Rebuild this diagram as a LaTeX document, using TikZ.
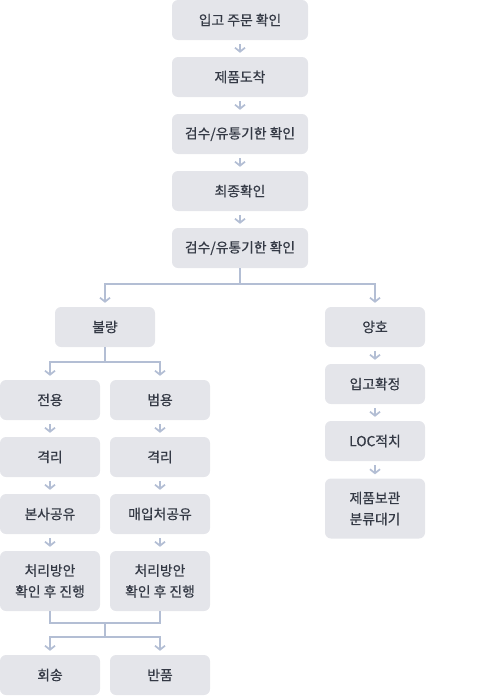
\documentclass[tikz,border=0pt]{standalone}
\usepackage{fontspec}
\setmainfont{Noto Sans CJK KR}
\newfontfamily\boxfont[FakeBold=0.5]{Noto Sans CJK KR}
\usetikzlibrary{arrows.meta}
\definecolor{boxfill}{HTML}{E4E5EA}
\definecolor{txt}{HTML}{343945}
\definecolor{ln}{HTML}{B3BED4}
\tikzset{
  x=1pt, y=-1pt,
  box/.style={draw=none, fill=boxfill, rounded corners=6pt, minimum width=100pt, minimum height=40pt,
    inner sep=0pt, align=center, text=txt, font=\boxfont\fontsize{13.8}{21}\selectfont},
  wide/.style={minimum width=136pt},
  tall/.style={minimum height=60pt},
  arr/.style={draw=ln, line width=1.7pt, -{Straight Barb[length=4pt,width=10pt,line width=1.7pt]}, shorten >=4pt},
  arrs/.style={arr, shorten <=4pt},
  ln/.style={draw=ln, line width=1.7pt}
}
\begin{document}
\begin{tikzpicture}
\useasboundingbox (0,0) rectangle (480,696);
% main column
\node[box,wide] (n1) at (240,20) {입고 주문 확인};
\node[box,wide] (n2) at (240,77) {제품도착};
\node[box,wide] (n3) at (240,134) {검수/유통기한 확인};
\node[box,wide] (n4) at (240,191) {최종확인};
\node[box,wide] (n5) at (240,248) {검수/유통기한 확인};
% branches
\node[box] (bad) at (105,327) {불량};
\node[box] (good) at (375,327) {양호};
% left
\node[box] (jy) at (50,400) {전용};
\node[box] (by) at (160,400) {범용};
\node[box] (g1) at (50,457) {격리};
\node[box] (g2) at (160,457) {격리};
\node[box] (s1) at (50,514) {본사공유};
\node[box] (s2) at (160,514) {매입처공유};
\node[box,tall] (c1) at (50,581) {처리방안\\확인 후 진행};
\node[box,tall] (c2) at (160,581) {처리방안\\확인 후 진행};
\node[box] (hs) at (50,675) {회송};
\node[box] (bp) at (160,675) {반품};
% right
\node[box] (r1) at (375,384) {입고확정};
\node[box] (r2) at (375,441) {LOC적치};
\node[box,tall] (r3) at (375,508.5) {제품보관\\분류대기};
% straight arrows
\draw[arrs] (n1) -- (n2);
\draw[arrs] (n2) -- (n3);
\draw[arrs] (n3) -- (n4);
\draw[arrs] (n4) -- (n5);
\draw[arrs] (jy) -- (g1);
\draw[arrs] (g1) -- (s1);
\draw[arrs] (s1) -- (c1);
\draw[arrs] (by) -- (g2);
\draw[arrs] (g2) -- (s2);
\draw[arrs] (s2) -- (c2);
\draw[arrs] (good) -- (r1);
\draw[arrs] (r1) -- (r2);
\draw[arrs] (r2) -- (r3);
% split after n5
\coordinate (k1) at (240,284);
\draw[ln] (n5.south) -- (k1);
\draw[arr] (k1) -| (bad.north);
\draw[arr] (k1) -| (good.north);
% split after bad
\coordinate (k2) at (105,362);
\draw[ln] (bad.south) -- (k2);
\draw[arr] (k2) -| (jy.north);
\draw[arr] (k2) -| (by.north);
% merge
\coordinate (m1) at (105,623);
\coordinate (m2) at (105,637);
\draw[ln] (c1.south) |- (m1) -| (c2.south);
\draw[ln] (m1) -- (m2);
\draw[arr] (m2) -| (hs.north);
\draw[arr] (m2) -| (bp.north);
\end{tikzpicture}
\end{document}
